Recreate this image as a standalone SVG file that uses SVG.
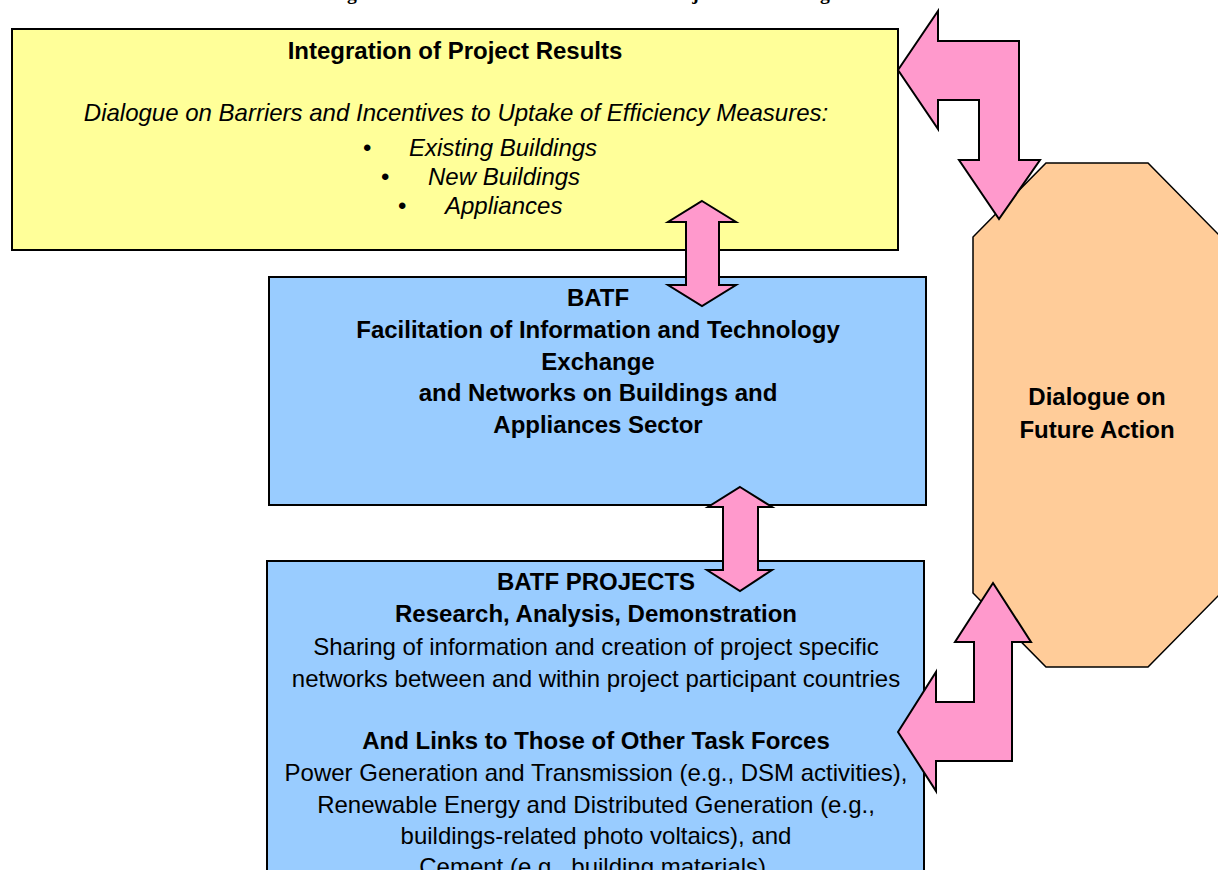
<svg xmlns="http://www.w3.org/2000/svg" width="1218" height="870" viewBox="0 0 1218 870">
  <style>
    .box { stroke: #000; stroke-width: 2; }
    .yellow { fill: #FFFF99; }
    .blue { fill: #99CCFF; }
    .octa { fill: #FFCC99; stroke: #000; stroke-width: 1.5; }
    .arrow { fill: #FF99CC; stroke: #000; stroke-width: 2; stroke-linejoin: miter; }
    text { font-family: "Liberation Sans", Arial, sans-serif; font-size: 24px; fill: #000; }
    .b { font-weight: bold; }
    .i { font-style: italic; }
    .c { text-anchor: middle; }
    .title { font-family: "Liberation Serif", "Times New Roman", serif; font-weight: bold; font-size: 19.7px; }
  </style>

  <rect width="1218" height="870" fill="#fff"/>

  <!-- page title, sitting above the top edge -->
  <text class="title" x="313" y="0">Integration of Activities within the BATF Project and Findings</text>

  <g id="integration">
    <rect class="box yellow" x="12" y="29" width="886" height="221"/>
    <text class="b c" x="455" y="58.5">Integration of Project Results</text>
    <text class="i c" x="456" y="120.5">Dialogue on Barriers and Incentives to Uptake of Efficiency Measures:</text>
    <text x="363" y="155.5">•</text>
    <text class="i" x="409" y="155.5">Existing Buildings</text>
    <text x="381" y="184.5">•</text>
    <text class="i" x="428" y="184.5">New Buildings</text>
    <text x="398" y="213.5">•</text>
    <text class="i" x="445" y="213.5">Appliances</text>
  </g>

  <g id="batf">
    <rect class="box blue" x="269" y="277" width="657" height="228"/>
    <text class="b c" x="598" y="305.5">BATF</text>
    <text class="b c" x="598" y="337.5">Facilitation of Information and Technology</text>
    <text class="b c" x="598" y="369.5">Exchange</text>
    <text class="b c" x="598" y="400.5">and Networks on Buildings and</text>
    <text class="b c" x="598" y="432.5">Appliances Sector</text>
  </g>

  <g id="projects">
    <rect class="box blue" x="267" y="561" width="657" height="320"/>
    <text class="b c" x="596" y="589.5">BATF PROJECTS</text>
    <text class="b c" x="596" y="621.5">Research, Analysis, Demonstration</text>
    <text class="c" x="596" y="654.5">Sharing of information and creation of project specific</text>
    <text class="c" x="596" y="686.5">networks between and within project participant countries</text>
    <text class="b c" x="596" y="748.5">And Links to Those of Other Task Forces</text>
    <text class="c" x="596" y="780.5">Power Generation and Transmission (e.g., DSM activities),</text>
    <text class="c" x="596" y="812.5">Renewable Energy and Distributed Generation (e.g.,</text>
    <text class="c" x="596" y="843.5">buildings-related photo voltaics), and</text>
    <text class="c" x="596" y="874.5">Cement (e.g., building materials).</text>
  </g>

  <g id="future-action">
    <polygon class="octa" points="1046,163 1148,163 1221,237 1221,593 1148,667 1046,667 973,593 973,237"/>
    <text class="b c" x="1097" y="404.5">Dialogue on</text>
    <text class="b c" x="1097" y="437.5">Future Action</text>
  </g>

  <g id="connectors">
    <!-- integration <-> batf -->
    <polygon class="arrow" points="702,201 736,222 719,222 719,285 736,285 702,306 668,285 686,285 686,222 668,222"/>
    <!-- batf <-> projects -->
    <polygon class="arrow" points="740,487 772,507 758,507 758,570 772,570 740,591 707,570 723,570 723,507 708,507"/>
    <!-- integration <-> future action -->
    <polygon class="arrow" points="898,70 938,11 938,41 1019,41 1019,160 1040,160 999,219 959,160 979,160 979,100 938,100 938,129"/>
    <!-- projects <-> future action -->
    <polygon class="arrow" points="993,583 1031,642 1012,642 1012,761 936,761 936,791 898,732 936,672 936,702 974,702 974,642 955,642"/>
  </g>
</svg>
